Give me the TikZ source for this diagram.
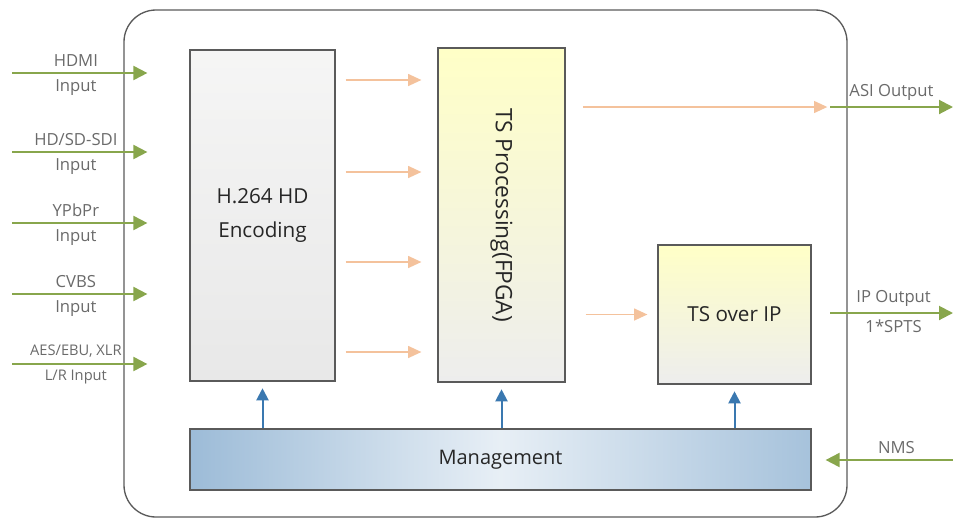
\documentclass[tikz,border=0pt]{standalone}
\usepackage{fontspec}
\setmainfont{Open Sans}
\usepackage{tikz}
\usetikzlibrary{arrows.meta,positioning,calc}
\definecolor{sigGreen}{HTML}{88A64C}
\definecolor{tsOrange}{HTML}{F4C29C}
\definecolor{ctrlBlue}{HTML}{3A78B0}
\definecolor{labelGray}{HTML}{6A6A6A}
\definecolor{edgeGray}{HTML}{5A5A5A}
\tikzset{%
  % styles for the blocks
     block/.style = {rectangle, draw=edgeGray, line width=0.9pt,
                     text centered, align=center, text=black!85,
                     font=\fontsize{15.5}{26}\selectfont},
    encBlock/.style = {block, top color=yellow!4!black!4, bottom color=black!9,
                       minimum width=108.75pt, minimum height=248.25pt},
    tsBlock/.style = {block, top color=yellow!22, bottom color=black!7},
    mgmtBlock/.style = {block, left color=ctrlBlue!50, right color=ctrlBlue!45,
                        middle color=ctrlBlue!12, font=\fontsize{15}{18}\selectfont,
                        minimum width=465.75pt, minimum height=45.75pt},
  % styles for the connectors
    sig/.style = {draw=sigGreen, line width=1.5pt,
                  -{Triangle[length=10.5pt,width=10.5pt]}},
    flow/.style = {draw=tsOrange, line width=1.1pt,
                   -{Triangle[length=10pt,width=9pt]}},
    ctrl/.style = {draw=ctrlBlue, line width=1.5pt,
                   -{Triangle[length=9pt,width=9pt]}},
    sigLabel/.style = {text=labelGray, font=\fontsize{12.5}{14}\selectfont,
                       inner sep=4pt},
}
\begin{document}
\begin{tikzpicture}[x=0.75pt,y=-0.75pt]
  \useasboundingbox (0,0) rectangle (953,519);

  % the unit
  \draw[draw=edgeGray, line width=1pt, rounded corners=24pt] (124,10) rectangle (847,517);

  % blocks
  \node (enc)   [encBlock] at (262.5,215.5) {H.264 HD\\Encoding};
  \node (tsp)   [tsBlock, minimum width=95.25pt, minimum height=250.5pt] at (501.5,215) {};
  \node [rotate=-90, font=\fontsize{17}{20}\selectfont, text=black!85] at (tsp.center) {TS Processing(FPGA)};
  \node (tsoip) [tsBlock, minimum width=114.75pt, minimum height=104.25pt] at (734.5,314.5) {TS over IP};
  \node (mgmt)  [mgmtBlock] at (500.5,459.5) {Management};

  % inputs on the left
  \foreach \name/\y/\top/\bot in {hdmi/73/HDMI/Input, sdi/152/{HD/SD-SDI}/Input,
                                  ypbpr/223/YPbPr/Input, cvbs/294/CVBS/Input}{
    \coordinate (\name Src) at (12,\y);
    \draw[sig, shorten >=31.5pt] (\name Src) -- (enc.west |- \name Src)
        node[pos=0.36, above, sigLabel] {\top}
        node[pos=0.36, below, sigLabel] {\bot};
  }
  \coordinate (audioSrc) at (12,364);
  \draw[sig, shorten >=31.5pt] (audioSrc) -- (enc.west |- audioSrc)
      node[pos=0.36, above, sigLabel, font=\fontsize{11}{13}\selectfont] {AES/EBU, XLR}
      node[pos=0.36, below, sigLabel, font=\fontsize{11}{13}\selectfont] {L/R Input};

  % streams from the encoder
  \foreach \y in {80,172,262,352}{
    \coordinate (es\y) at (0,\y);
    \draw[flow, shorten <=7.5pt, shorten >=12pt] (enc.east |- es\y) -- (tsp.west |- es\y);
  }

  % outputs
  \coordinate (asiOut) at (953,107);
  \coordinate (asiEnd) at (830,107);
  \draw[flow, shorten <=13pt, shorten >=2pt] (tsp.east |- asiOut) -- (asiEnd);
  \draw[sig] (asiEnd) -- (asiOut) node[midway, above, sigLabel] {ASI Output};

  \coordinate (ipOut) at (953,313);
  \draw[flow, shorten <=15pt, shorten >=7.5pt] (tsp.east |- tsoip.west) -- (tsoip.west);
  \draw[sig, shorten <=14pt] (tsoip.east |- ipOut) -- (ipOut)
      node[pos=0.58, above, sigLabel] {IP Output}
      node[pos=0.58, below, sigLabel] {1*SPTS};

  % management
  \coordinate (nmsIn) at (953,460);
  \draw[sig, shorten >=10.5pt] (nmsIn) -- (mgmt.east |- nmsIn)
      node[pos=0.4, above, sigLabel] {NMS};

  \draw[ctrl, shorten >=5pt] (mgmt.north -| enc.south) -- (enc.south);
  \draw[ctrl, shorten >=5pt] (mgmt.north -| tsp.south) -- (tsp.south);
  \draw[ctrl, shorten >=5pt] (mgmt.north -| tsoip.south) -- (tsoip.south);

\end{tikzpicture}
\end{document}
